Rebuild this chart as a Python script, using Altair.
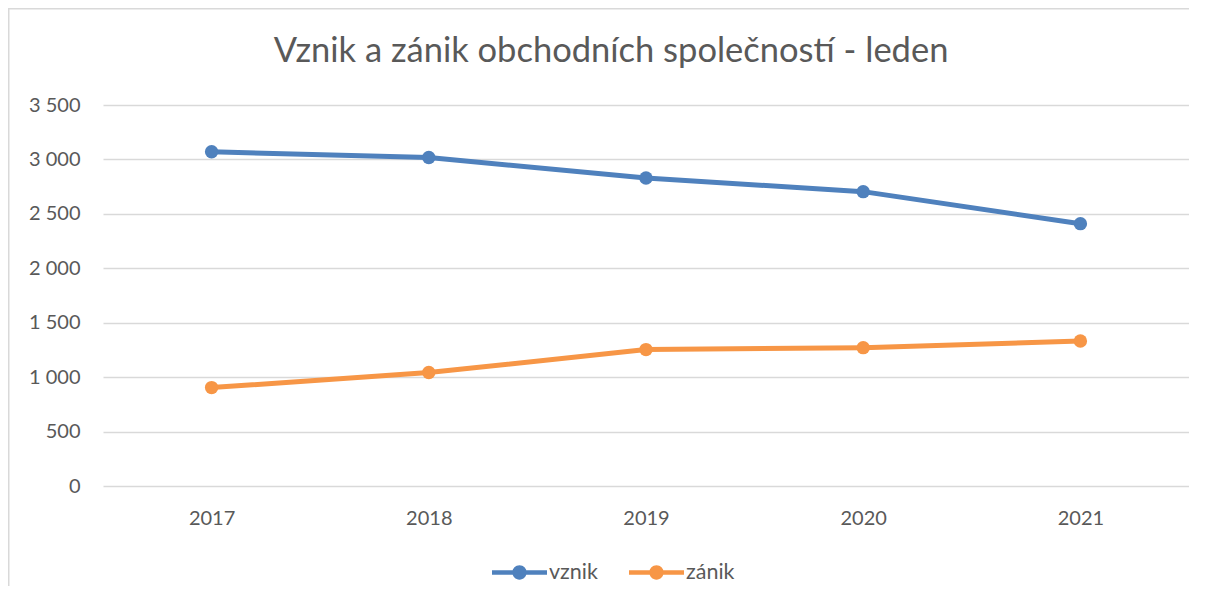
import altair as alt
import pandas as pd

years = ["2017", "2018", "2019", "2020", "2021"]
vznik = [3070, 3017, 2829, 2704, 2410]
zanik = [904, 1042, 1253, 1271, 1332]
series_names = ["vznik", "zánik"]
series_colors = ["#4F81BD", "#F79646"]
y_ticks = [0, 500, 1000, 1500, 2000, 2500, 3000, 3500]
title_text = "Vznik a zánik obchodních společností - leden"

rows = []
for name, vals in zip(series_names, [vznik, zanik]):
    for yr, v in zip(years, vals):
        rows.append({"rok": yr, "serie": name, "linie": name, "hodnota": v})
df = pd.DataFrame(rows)

FONT = "Lato"
TXT = "#595959"
W, H = 1086, 381

legend_path = ("M-1,-0.08L1,-0.08L1,0.08L-1,0.08Z "
               "M0.26,0A0.26,0.26,0,1,1,-0.26,0A0.26,0.26,0,1,1,0.26,0Z")

x_enc = alt.X("rok:N", sort=years,
              scale=alt.Scale(type="point", padding=0.5),
              axis=alt.Axis(title=None, labelAngle=0, domain=False, ticks=False,
                            labelPadding=22, labelFontSize=20, labelColor=TXT,
                            labelFont=FONT, grid=False))
y_enc = alt.Y("hodnota:Q", scale=alt.Scale(domain=[0, 3500], nice=False),
              axis=alt.Axis(title=None, values=y_ticks, domain=False, ticks=False,
                            labelPadding=23, labelFontSize=20, labelColor=TXT,
                            labelFont=FONT, gridColor="#D9D9D9", gridWidth=1.3,
                            labelExpr="replace(format(datum.value, ','), ',', ' ')"))

base = alt.Chart(df)

lines = base.mark_line(strokeWidth=5).encode(
    x=x_enc, y=y_enc,
    stroke=alt.Stroke("linie:N", scale=alt.Scale(range=series_colors), legend=None),
)

points = base.mark_circle(size=180, opacity=1).encode(
    x=x_enc, y=y_enc,
    fill=alt.Fill("serie:N", scale=alt.Scale(range=series_colors),
                  legend=alt.Legend(title=None, orient="none", direction="horizontal",
                                    legendX=389, legendY=440, padding=0,
                                    symbolType=legend_path, symbolSize=3025,
                                    symbolStrokeWidth=0, symbolOpacity=1,
                                    labelFontSize=21.5, labelColor=TXT, labelFont=FONT,
                                    labelOffset=2, columnPadding=31)),
)

one = alt.Data(values=[{"t": title_text}])

title = alt.Chart(one).mark_text(
    fontSize=34.5, font=FONT, color=TXT, align="center", baseline="alphabetic"
).encode(text="t:N", x=alt.value(W / 2 - 35), y=alt.value(-43))

left_line = alt.Chart(one).mark_rule(stroke="#D9D9D9", strokeWidth=1.5).encode(
    x=alt.value(-94.25), y=alt.value(-97), y2=alt.value(H + 150))
top_line = alt.Chart(one).mark_rule(stroke="#D9D9D9", strokeWidth=1.5).encode(
    y=alt.value(-96.25), x=alt.value(-95), x2=alt.value(W + 40))

chart = alt.layer(left_line, top_line, title, lines, points).properties(
    width=W, height=H,
    autosize=alt.AutoSizeParams(type="none"),
    padding={"left": 95, "top": 97, "right": 0, "bottom": 100},
).configure_view(strokeWidth=0)

chart.save("out.html", embed_options={"renderer": "svg", "actions": False})
